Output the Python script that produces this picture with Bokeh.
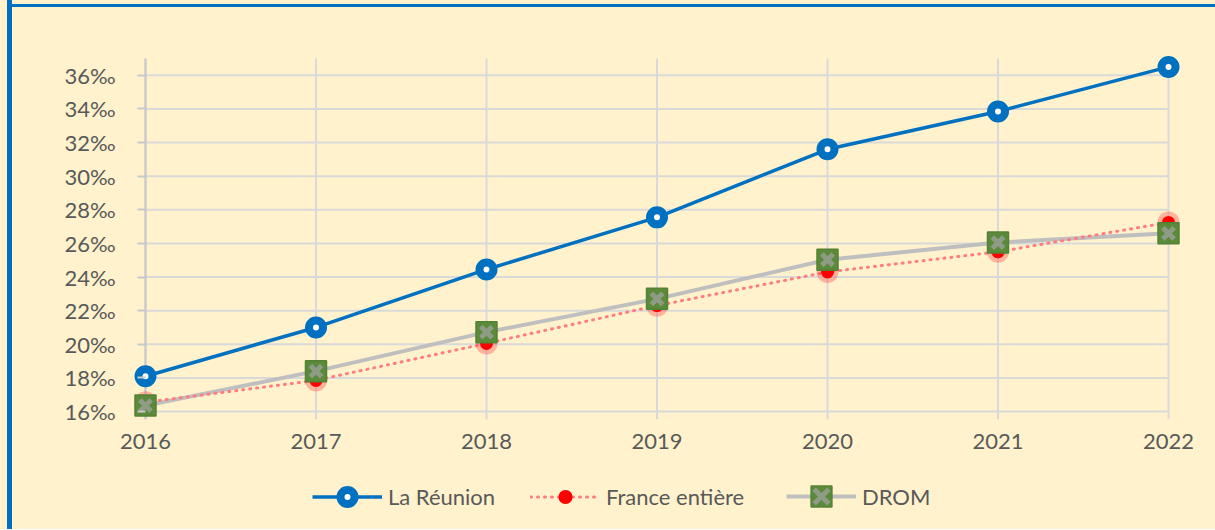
from bokeh.plotting import figure
from bokeh.models import Range1d, FixedTicker, Legend, LegendItem
from bokeh.layouts import column
from bokeh.embed import file_html
from bokeh.resources import INLINE

years = [2016, 2017, 2018, 2019, 2020, 2021, 2022]
reunion = [18.1, 21.0, 24.45, 27.55, 31.6, 33.85, 36.5]
france = [16.55, 17.85, 20.05, 22.3, 24.3, 25.5, 27.25]
drom = [16.35, 18.4, 20.72, 22.7, 25.03, 26.05, 26.6]
y_ticks = [16, 18, 20, 22, 24, 26, 28, 30, 32, 34, 36]
y_tick_labels = {t: f"{t}‰" for t in y_ticks}
x_tick_labels = {y: str(y) for y in years}
y_min, y_max = 16, 37

FONT = "Lato"
TXT = "#595959"
BG = "#FFF2CC"
GRID = "#D9D9D9"
AXIS = "#C8C8C8"

PX_X = 170.5   # px per year
PX_Y = 16.8    # px per unit
pad_x = 14 / PX_X
below = 8 / PX_Y

p = figure(width=1203, height=462, output_backend="svg", toolbar_location=None,
           x_range=Range1d(years[0] - pad_x, years[-1] + pad_x),
           y_range=Range1d(y_min - below, y_max + 3 / PX_Y),
           min_border_left=119, min_border_right=33, min_border_top=48,
           min_border_bottom=50)
p.background_fill_color = BG
p.border_fill_color = BG
p.outline_line_color = None
p.grid.visible = False

# gridlines from the tick arrays
p.segment(x0=[years[0]] * len(y_ticks), x1=[years[-1]] * len(y_ticks), y0=y_ticks, y1=y_ticks,
          line_color=GRID, line_width=2)
p.segment(x0=years, x1=years, y0=[y_min - below] * len(years), y1=[y_max] * len(years),
          line_color=GRID, line_width=2)
# value axis line at the first category
p.segment(x0=[years[0]], x1=[years[0]], y0=[y_min - below], y1=[y_max],
          line_color=AXIS, line_width=2)

p.xaxis.ticker = FixedTicker(ticks=years)
p.xaxis.major_label_overrides = x_tick_labels
p.yaxis.ticker = FixedTicker(ticks=y_ticks)
p.yaxis.major_label_overrides = y_tick_labels
for ax in (p.xaxis, p.yaxis):
    ax.major_label_text_font = FONT
    ax.major_label_text_font_size = "22px"
    ax.major_label_text_color = TXT
    ax.minor_tick_line_color = None
    ax.axis_line_color = None
p.xaxis.major_tick_line_color = None
p.xaxis.major_tick_in = 0
p.xaxis.major_tick_out = 0
p.xaxis.major_label_standoff = 14
p.yaxis.major_tick_in = 14
p.yaxis.major_tick_out = -6
p.yaxis.major_tick_line_color = AXIS
p.yaxis.major_tick_line_width = 2
p.yaxis.major_label_standoff = 16

STY = dict(
    reu_line=dict(line_color="#0070C0", line_width=3.5),
    reu_mark=dict(size=14, fill_color="white", line_color="#0070C0", line_width=8),
    fr_line=dict(line_color="#FF7C80", line_width=3, line_dash="1 6", line_cap="round"),
    fr_halo=dict(size=22, fill_color="#FF4040", fill_alpha=0.35, line_color=None),
    fr_mark=dict(size=13, fill_color="#FF0000", line_color=None),
    dr_line=dict(line_color="#BFBFBF", line_width=4),
    dr_sq=dict(marker="square", size=21, fill_color="#5B8A3A", line_color="#548235", line_width=1.5),
    dr_x=dict(marker="x", size=16, line_color="#8E9C86", line_width=5),
)

def draw(fig):
    r = {}
    r["dr_line"] = fig.line(years, drom, **STY["dr_line"])
    r["fr_line"] = fig.line(years, france, **STY["fr_line"])
    r["fr_halo"] = fig.scatter(years, france, **STY["fr_halo"])
    r["fr_mark"] = fig.scatter(years, france, **STY["fr_mark"])
    r["dr_sq"] = fig.scatter(years, drom, **STY["dr_sq"])
    r["dr_x"] = fig.scatter(years, drom, **STY["dr_x"])
    r["reu_line"] = fig.line(years, reunion, **STY["reu_line"])
    r["reu_mark"] = fig.scatter(years, reunion, **STY["reu_mark"])
    return r

draw(p)

# legend strip: its own figure whose view range leaves the series out of sight
q = figure(width=1203, height=60, output_backend="svg", toolbar_location=None,
           x_axis_location=None, y_axis_location=None, min_border=0,
           x_range=Range1d(0, 1), y_range=Range1d(0, 1))
q.background_fill_color = BG
q.border_fill_color = BG
q.outline_line_color = None
q.grid.visible = False
lr = draw(q)

def add_legend(label, keys, gh, vx):
    lg = Legend(items=[LegendItem(label=label, renderers=[lr[k] for k in keys])],
                location=(vx, 33 - gh / 2), orientation="horizontal",
                glyph_width=70, glyph_height=gh, label_standoff=6,
                label_text_font=FONT, label_text_font_size="22px",
                label_text_color=TXT, padding=0, margin=0, spacing=0,
                border_line_color=None, background_fill_alpha=0)
    q.add_layout(lg)

add_legend("La Réunion", ["reu_line", "reu_mark"], 35, 181)
add_legend("France entière", ["fr_line", "fr_halo", "fr_mark"], 35, 399)
add_legend("DROM", ["dr_line", "dr_sq", "dr_x"], 52, 655)

layout = column(p, q, spacing=0)
layout.styles = {"margin": "0px", "padding-left": "12px", "padding-top": "7px",
                 "background": "linear-gradient(to right, #FFF2CC 7px, #0070C0 7px, #0070C0 12px, transparent 12px), "
                               "linear-gradient(to bottom, #FFF2CC 4px, #0070C0 4px, #0070C0 7px, #FFF2CC 7px)"}

open("out.html", "w").write(file_html(layout, INLINE))
